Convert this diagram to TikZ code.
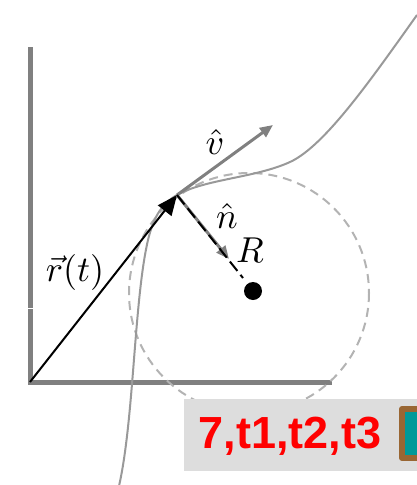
\documentclass[tikz,border=0pt]{standalone}
\usepackage{fontspec}
\usepackage{graphicx}
\newfontfamily\panelfont{Liberation Sans}
\usetikzlibrary{arrows.meta}

\definecolor{axisgray}{HTML}{808080}
\definecolor{curvegray}{HTML}{999999}
\definecolor{circlegray}{HTML}{B3B3B3}
\definecolor{panelgray}{HTML}{DDDDDD}
\definecolor{boxbrown}{HTML}{996633}
\definecolor{boxteal}{HTML}{009999}

\newcommand\biglabel[1]{\scalebox{3.6}{#1}}

\begin{document}
\begin{tikzpicture}[
  x=1pt,
  y=-1pt,
  line join=round,
  axisline/.style={draw=axisgray, line width=5pt, line join=miter},
  pathline/.style={draw=curvegray, line width=2pt},
  circleline/.style={draw=circlegray, line width=2pt, dash pattern=on 9pt off 6pt},
  unitvec/.style={draw=axisgray, line width=3pt, -{Triangle[length=13pt,width=11pt]}},
  mathlabel/.style={inner sep=0pt}
]
  \def\radius{120}

  \useasboundingbox (0,0) rectangle (417,485);
  \clip (0,0) rectangle (417,485);

  \coordinate (O) at (30,382);
  \coordinate (X) at (332,382);
  \coordinate (Y) at (30,47);
  \coordinate (P) at (177,195);
  \coordinate (C) at (249,293);
  \coordinate (V) at (273,125);
  \coordinate (N) at (229,259);
  \coordinate (D) at (243,278);
  \coordinate (K) at (253,291);

  % Оси
  \draw[axisline]
    (Y) -- (O) -- (X);

  % Засечка на оси
  \draw[white, line width=1pt]
    (26,308) -- (34,308);

  % Окружность кривизны
  \draw[circleline]
    (C) circle[radius=\radius];

  % Траектория
  \draw[pathline]
    (119,486)
    .. controls (134,420) and (134,300) .. (148,240)
    .. controls (154,215) and (163,203) .. (P)
    .. controls (205,179) and (255,178) .. (290,162)
    .. controls (325,146) and (372,78) .. (417,15);

  % Радиус-вектор
  \draw[black, line width=2pt, -{Triangle[length=20pt,width=17pt]}]
    (O) -- (P);

  % Касательный и нормальный векторы
  \draw[unitvec]
    (P) -- (V);

  \draw[unitvec]
    (P) -- (N);

  \draw[black, line width=2pt, dash pattern=on 12pt off 5pt]
    (P) -- (D);

  % Центр кривизны
  \fill (K) circle (9pt);

  % Подписи
  \node[mathlabel] (rlabel) at (75,272) {\biglabel{$\vec{r}(t)$}};
  \node[mathlabel] (vlabel) at (215,142) {\biglabel{$\hat{v}$}};
  \node[mathlabel] (nlabel) at (227,216) {\biglabel{$\hat{n}$}};
  \node[mathlabel] (Rlabel) at (250,250) {\biglabel{$R$}};

  % Плашка
  \fill[panelgray]
    (184,399) rectangle (417,471);

  \draw[boxbrown, fill=boxteal, line width=6pt]
    (402,409) rectangle (440,458);

  \node[font=\panelfont\bfseries\fontsize{45}{54}\selectfont, text=red]
    (tlabel) at (290,436) {7,t1,t2,t3};
\end{tikzpicture}
\end{document}
